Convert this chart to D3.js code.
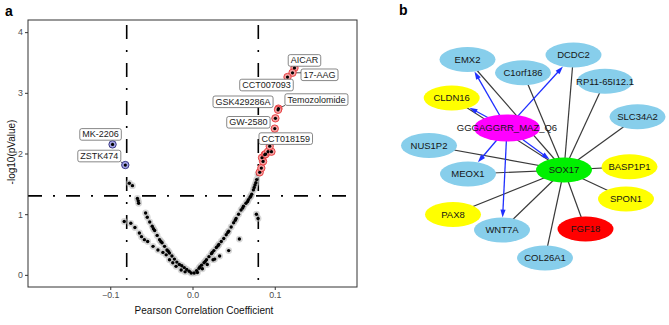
<!DOCTYPE html>
<html>
<head>
<meta charset="utf-8">
<script src="https://cdn.jsdelivr.net/npm/d3@7"></script>
<style>
  body { margin: 0; background: #fff; }
  svg { font-family: "Liberation Sans", Arial, sans-serif; }
</style>
</head>
<body>
<script>
/* ---- panel a data ---- */
var xTicks = [-0.1, 0.0, 0.1];
var yTicks = [0, 1, 2, 3, 4];
var rCut = 0.08;
var pCut = 1.301; // -log10(0.05)

// non significant drugs [r, -log10 p]
var bgPoints = [
  [0.002,0.03],[0.005,0.07],[0.008,0.11],[0.011,0.16],[0.014,0.2],[0.017,0.25],[0.02,0.3],[0.023,0.35],
  [0.026,0.4],[0.029,0.45],[0.032,0.5],[0.035,0.55],[0.038,0.6],[0.041,0.66],[0.044,0.72],[0.047,0.79],
  [0.05,0.86],[0.053,0.93],[0.056,1.0],[0.059,1.07],[0.062,1.13],[0.065,1.18],[0.068,1.24],[0.07,1.28],
  [0.072,1.33],[0.074,1.4],[0.076,1.48],[0.078,1.57],[0.0795,1.66],
  [0.009,0.13],[0.0155,0.22],[0.024,0.37],[0.031,0.48],[0.043,0.7],[0.052,0.9],[0.061,1.1],[0.067,1.21],
  [0.071,1.3],[0.075,1.44],[0.077,1.52],
  [0.006,0.04],[0.012,0.1],[0.018,0.17],[0.025,0.25],[0.027,0.26],[0.033,0.31],[0.044,0.4],[0.057,0.59],
  [0.0777,1.0],[0.0797,0.93],
  [-0.0016,0.03],[-0.004,0.06],[-0.007,0.09],[-0.01,0.12],[-0.013,0.15],[-0.016,0.17],[-0.019,0.21],
  [-0.022,0.26],[-0.025,0.31],[-0.028,0.36],[-0.031,0.41],[-0.034,0.47],[-0.037,0.53],[-0.04,0.58],
  [-0.043,0.65],[-0.046,0.73],[-0.049,0.8],[-0.052,0.87],[-0.055,0.95],[-0.057,1.02],[-0.0655,1.18],
  [-0.066,1.22],[-0.067,1.26],[-0.0768,1.51],[-0.073,1.47],[-0.0295,0.39],[-0.0385,0.55],[-0.0475,0.76],
  [-0.083,0.88],[-0.075,0.85],[-0.07,0.78],[-0.0646,0.69],[-0.062,0.63],[-0.0585,0.58],[-0.0545,0.55],
  [-0.048,0.47],[-0.042,0.41],[-0.036,0.37],[-0.032,0.33],[-0.028,0.25],[-0.024,0.2],[-0.02,0.14],
  [-0.0138,0.08],[-0.009,0.05]
];

// significant, unlabelled
var sigPoints = [
  [0.0817,1.69],[0.0837,1.76],[0.0858,1.87],[0.0845,1.93],[0.0878,1.98],[0.089,1.99],
  [0.0918,2.03],[0.096,2.03],[0.0939,2.12]
];

// labelled drugs
var drugNames = ["AICAR","17-AAG","CCT007093","Temozolomide","GSK429286A","GW-2580","CCT018159","MK-2206","ZSTK474"];
var drugR     = [0.124, 0.1216, 0.1155, 0.1045, 0.104, 0.1008, 0.100, -0.0972, -0.0817];
var drugLogP  = [3.41, 3.33, 3.26, 2.74, 2.72, 2.58, 2.41, 2.15, 1.81];

/* ---- panel b data ---- */
var nodeNames = ["GGGAGGRR_MAZ_Q6","SOX17","EMX2","DCDC2","C1orf186","RP11-65I12.1","CLDN16","SLC34A2",
                 "NUS1P2","BASP1P1","MEOX1","SPON1","PAX8","WNT7A","FGF18","COL26A1"];
var nodeGroup = ["motif","hub","blue","blue","blue","blue","yellow","blue",
                 "blue","yellow","blue","yellow","yellow","blue","red","blue"];
var sox17Links = ["EMX2","C1orf186","DCDC2","RP11-65I12.1","SLC34A2","BASP1P1","SPON1","FGF18",
                  "COL26A1","WNT7A","PAX8","MEOX1","NUS1P2","CLDN16"];
var motifTargets = ["EMX2","CLDN16","DCDC2","MEOX1","WNT7A","SOX17"];

// network layout (layout units)
var layout = {
  "GGGAGGRR_MAZ_Q6":[112,93], "SOX17":[169,135], "EMX2":[72.5,24.5], "DCDC2":[178.5,20],
  "C1orf186":[128,37.7], "RP11-65I12.1":[210,46.3], "CLDN16":[56.7,63], "SLC34A2":[242.5,81.7],
  "NUS1P2":[34,110.5], "BASP1P1":[234.5,131.7], "MEOX1":[73,139], "SPON1":[231,164],
  "PAX8":[58,179.5], "WNT7A":[107,195], "FGF18":[190.5,194], "COL26A1":[150,223]
};

var groupColor = { motif: "#ff00ff", hub: "#00f000", blue: "#87ceeb", yellow: "#ffff00", red: "#ff0000" };

var svg = d3.select("body").append("svg")
  .attr("width", 669)
  .attr("height", 325);

/* ================= panel a ================= */
var x = d3.scaleLinear().domain([-0.2, 0.2]).range([28, 357]);
var y = d3.scaleLinear().domain([-0.2, 4.2]).range([287, 20]);

svg.append("text")
  .attr("x", 5).attr("y", 16)
  .style("font-size", "14px").style("font-weight", "bold")
  .text("a");

var pa = svg.append("g").attr("class", "panel-a");

// threshold lines
var dash = "14,11,2,11";
pa.append("line")
  .attr("x1", x(-rCut)).attr("x2", x(-rCut)).attr("y1", y.range()[1]).attr("y2", y.range()[0])
  .attr("stroke", "#000").attr("stroke-width", 1.6).attr("stroke-dasharray", dash).attr("stroke-dashoffset", -5);
pa.append("line")
  .attr("x1", x(rCut)).attr("x2", x(rCut)).attr("y1", y.range()[1]).attr("y2", y.range()[0])
  .attr("stroke", "#000").attr("stroke-width", 1.6).attr("stroke-dasharray", dash).attr("stroke-dashoffset", -5);
pa.append("line")
  .attr("x1", x.range()[0]).attr("x2", x.range()[1]).attr("y1", y(pCut)).attr("y2", y(pCut))
  .attr("stroke", "#000").attr("stroke-width", 1.6).attr("stroke-dasharray", dash);

// background points
pa.append("g").selectAll("circle")
  .data(bgPoints)
  .enter().append("circle")
    .attr("cx", function(d) { return x(d[0]); })
    .attr("cy", function(d) { return y(d[1]); })
    .attr("r", 3.4)
    .style("fill", "#bdbdbd")
    .style("opacity", 0.6);
pa.append("g").selectAll("circle")
  .data(bgPoints)
  .enter().append("circle")
    .attr("cx", function(d) { return x(d[0]); })
    .attr("cy", function(d) { return y(d[1]); })
    .attr("r", 1.7)
    .style("fill", "#000");

var drugs = drugNames.map(function(n, i) { return { name: n, r: drugR[i], p: drugLogP[i] }; });
var sigAll = sigPoints.map(function(d) { return { r: d[0], p: d[1] }; }).concat(drugs);

// label offsets in px (label centre relative to point)
var labelOffset = {
  "AICAR": [10, -7.5], "17-AAG": [27, 2], "CCT007093": [-21, 8], "Temozolomide": [38, -9],
  "GSK429286A": [-35, -8], "GW-2580": [-27, 4], "CCT018159": [11, 10], "MK-2206": [-12, -10],
  "ZSTK474": [-26, -9]
};

// label boxes (measure first)
var lab = pa.append("g").attr("class", "labels");
var labG = lab.selectAll("g")
  .data(drugs)
  .enter().append("g");
labG.append("text")
  .attr("x", function(d) { return x(d.r) + labelOffset[d.name][0]; })
  .attr("y", function(d) { return y(d.p) + labelOffset[d.name][1]; })
  .attr("dy", "0.34em")
  .attr("text-anchor", "middle")
  .style("font-size", "9px")
  .style("fill", "#1a1a1a")
  .text(function(d) { return d.name; })
  .each(function(d) {
    var w = this.getComputedTextLength();
    var cx = x(d.r) + labelOffset[d.name][0], cy = y(d.p) + labelOffset[d.name][1];
    d.box = { x0: cx - w / 2 - 2.5, x1: cx + w / 2 + 2.5, y0: cy - 5.8, y1: cy + 5.8 };
  });

// connectors where the box sits away from its point
var segs = drugs.filter(function(d) {
  var px = x(d.r), py = y(d.p), b = d.box;
  var nx = Math.max(b.x0, Math.min(px, b.x1)), ny = Math.max(b.y0, Math.min(py, b.y1));
  d.near = [nx, ny];
  return Math.hypot(px - nx, py - ny) > 5.5;
});
pa.insert("g", ".labels").selectAll("line")
  .data(segs)
  .enter().append("line")
    .attr("x1", function(d) { return x(d.r); })
    .attr("y1", function(d) { return y(d.p); })
    .attr("x2", function(d) { return d.near[0]; })
    .attr("y2", function(d) { return d.near[1]; })
    .attr("stroke", "#222").attr("stroke-width", 0.8);

// significant points
var sigG = pa.insert("g", ".labels");
sigG.selectAll("circle.ring")
  .data(sigAll)
  .enter().append("circle")
    .attr("class", "ring")
    .attr("cx", function(d) { return x(d.r); })
    .attr("cy", function(d) { return y(d.p); })
    .attr("r", 3.7)
    .style("fill", function(d) { return d.r > 0 ? "#f3a3a3" : "#a5a5e6"; })
    .style("stroke", function(d) { return d.r > 0 ? "#e6373a" : "#2c2c7c"; })
    .style("stroke-width", 0.9);
sigG.selectAll("circle.core")
  .data(sigAll)
  .enter().append("circle")
    .attr("class", "core")
    .attr("cx", function(d) { return x(d.r); })
    .attr("cy", function(d) { return y(d.p); })
    .attr("r", 1.6)
    .style("fill", "#000");

labG.insert("rect", "text")
  .attr("x", function(d) { return d.box.x0; })
  .attr("y", function(d) { return d.box.y0; })
  .attr("width", function(d) { return d.box.x1 - d.box.x0; })
  .attr("height", function(d) { return d.box.y1 - d.box.y0; })
  .attr("rx", 2)
  .style("fill", "#fff")
  .style("stroke", "#555")
  .style("stroke-width", 0.7);

// frame and axes
pa.append("rect")
  .attr("x", 28).attr("y", 20).attr("width", 329).attr("height", 267)
  .style("fill", "none").style("stroke", "#333").style("stroke-width", 1);

var xAxis = pa.append("g")
  .attr("transform", "translate(0,287)")
  .call(d3.axisBottom(x).tickValues(xTicks).tickSize(3).tickPadding(2).tickFormat(d3.format(".1f")));
var yAxis = pa.append("g")
  .attr("transform", "translate(28,0)")
  .call(d3.axisLeft(y).tickValues(yTicks).tickSize(3).tickPadding(2).tickFormat(d3.format("d")));
[xAxis, yAxis].forEach(function(ax) {
  ax.select(".domain").remove();
  ax.selectAll(".tick line").attr("stroke", "#333");
  ax.selectAll(".tick text").style("fill", "#4d4d4d").style("font-size", "8.8px")
    .style("font-family", "'Liberation Sans', Arial, sans-serif");
});

pa.append("text")
  .attr("x", 204).attr("y", 314)
  .attr("text-anchor", "middle")
  .style("font-size", "10px").style("fill", "#111")
  .text("Pearson Correlation Coefficient");
pa.append("text")
  .attr("transform", "translate(15,152) rotate(-90)")
  .attr("text-anchor", "middle")
  .style("font-size", "10px").style("fill", "#111")
  .text("-log10(pValue)");

/* ================= panel b ================= */
svg.append("text")
  .attr("x", 399).attr("y", 15)
  .style("font-size", "14px").style("font-weight", "bold")
  .text("b");

var bx = d3.scaleLinear().domain([0, 270]).range([395, 665]);
var by = d3.scaleLinear().domain([0, 240]).range([35, 275]);
var rx = d3.scaleOrdinal().domain(["motif"]).range([33]).unknown(28);
var ry = d3.scaleOrdinal().domain(["motif"]).range([13.5]).unknown(12.5);

var nodes = nodeNames.map(function(n, i) {
  return { name: n, group: nodeGroup[i], x: bx(layout[n][0]), y: by(layout[n][1]) };
});
var byName = {};
nodes.forEach(function(n) { byName[n.name] = n; });

var pb = svg.append("g").attr("class", "panel-b");

pb.append("g").selectAll("line")
  .data(sox17Links)
  .enter().append("line")
    .attr("x1", byName["SOX17"].x).attr("y1", byName["SOX17"].y)
    .attr("x2", function(d) { return byName[d].x; })
    .attr("y2", function(d) { return byName[d].y; })
    .attr("stroke", "#3a3a3a").attr("stroke-width", 1.2);

// arrows ending on target ellipse
var src = byName["GGGAGGRR_MAZ_Q6"];
var arrows = motifTargets.map(function(t) {
  var tn = byName[t];
  var dx = src.x - tn.x, dy = src.y - tn.y;
  var k = 1 / Math.sqrt(Math.pow(dx / rx(tn.group), 2) + Math.pow(dy / ry(tn.group), 2));
  var tipX = tn.x + dx * k, tipY = tn.y + dy * k;
  var len = Math.hypot(dx, dy), ux = dx / len, uy = dy / len;
  return { tip: [tipX, tipY], u: [ux, uy] };
});
var ag = pb.append("g");
ag.selectAll("line")
  .data(arrows)
  .enter().append("line")
    .attr("x1", src.x).attr("y1", src.y)
    .attr("x2", function(d) { return d.tip[0] + d.u[0] * 5; })
    .attr("y2", function(d) { return d.tip[1] + d.u[1] * 5; })
    .attr("stroke", "#1f2fff").attr("stroke-width", 1.3);
ag.selectAll("path")
  .data(arrows)
  .enter().append("path")
    .attr("d", function(d) {
      var bxp = d.tip[0] + d.u[0] * 8, byp = d.tip[1] + d.u[1] * 8;
      var px = -d.u[1] * 2.6, py = d.u[0] * 2.6;
      return "M" + d.tip[0] + "," + d.tip[1] + "L" + (bxp + px) + "," + (byp + py) +
             "L" + (bxp - px) + "," + (byp - py) + "Z";
    })
    .style("fill", "#1f2fff");

var ng = pb.append("g").selectAll("g")
  .data(nodes)
  .enter().append("g");
ng.append("ellipse")
  .attr("cx", function(d) { return d.x; })
  .attr("cy", function(d) { return d.y; })
  .attr("rx", function(d) { return rx(d.group); })
  .attr("ry", function(d) { return ry(d.group); })
  .style("fill", function(d) { return groupColor[d.group]; });
ng.append("text")
  .attr("x", function(d) { return d.x; })
  .attr("y", function(d) { return d.y; })
  .attr("dy", "0.35em")
  .attr("text-anchor", "middle")
  .style("font-size", "9.5px")
  .style("fill", "#151515")
  .text(function(d) { return d.name; });
</script>
</body>
</html>
